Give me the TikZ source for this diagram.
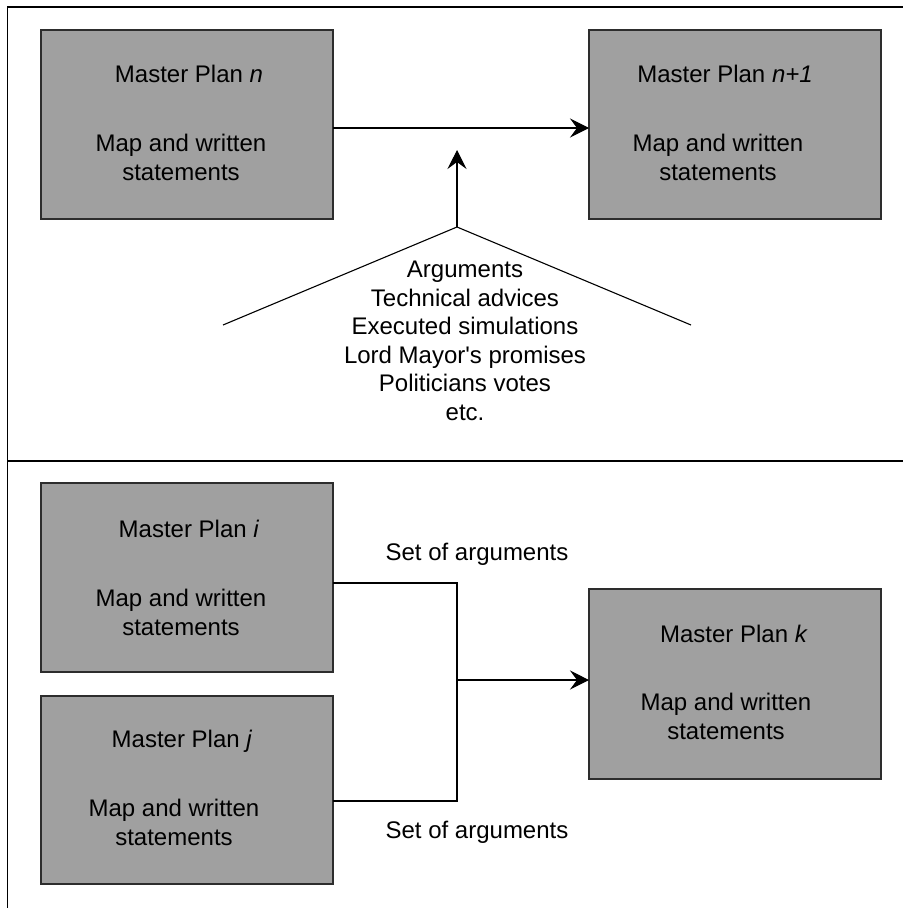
\documentclass[tikz,border=0pt]{standalone}
\usepackage{fontspec}
\setmainfont{Liberation Sans}
\usetikzlibrary{arrows.meta}
\definecolor{boxgray}{RGB}{160,160,160}
\definecolor{boxedge}{RGB}{45,45,45}
\begin{document}
\begin{tikzpicture}[x=1pt,y=-1pt,
  box/.style={rectangle, fill=boxgray, draw=boxedge, line width=1.3pt,
    minimum width=292pt, minimum height=189pt, inner sep=0pt, outer sep=0pt, anchor=north west},
  lbl/.style={font=\fontsize{24}{28.5}\selectfont, inner sep=0pt, outer sep=0pt, align=center},
  conn/.style={line width=1.1pt},
  arr/.style={conn, -{Stealth[length=19pt,width=19pt,inset=7pt]}},
  framestyle/.style={line width=1.6pt}]
\useasboundingbox (0,0) rectangle (903,908);
% frame
\coordinate (fbl) at (7.3,908);
\coordinate (ftl) at (7.3,7);
\coordinate (ftr) at (903,7);
\coordinate (fdl) at (7.3,460.7);
\coordinate (fdr) at (903,460.7);
\draw[framestyle] (fbl) -- (ftl) -- (ftr);
\draw[framestyle] (fdl) -- (fdr);
% boxes
\node[box] (n)  at (41,30)  {};
\node[box] (n1) at (589,30) {};
\node[box] (i)  at (41,483) {};
\node[box, minimum height=188pt] (j)  at (41,696) {};
\node[box, minimum height=190pt] (k)  at (589,589) {};
% box texts
\node[lbl, anchor=base]  (nt)  at (189,82.6)  {Master Plan \textit{n}};
\node[lbl, anchor=north] (nb)  at (181,134.2) {Map and written\\statements};
\node[lbl, anchor=base]  (n1t) at (725,82.6)  {Master Plan \textit{n+1}};
\node[lbl, anchor=north] (n1b) at (718,134.2) {Map and written\\statements};
\node[lbl, anchor=base]  (it)  at (189,537.6) {Master Plan \textit{i}};
\node[lbl, anchor=north] (ib)  at (181,589.2) {Map and written\\statements};
\node[lbl, anchor=base]  (jt)  at (182,747.6) {Master Plan \textit{j}};
\node[lbl, anchor=north] (jb)  at (174,799.2) {Map and written\\statements};
\node[lbl, anchor=base]  (kt)  at (734,642.6) {Master Plan \textit{k}};
\node[lbl, anchor=north] (kb)  at (726,693.2) {Map and written\\statements};
% arguments text
\node[lbl, anchor=north] (args) at (465,261.2) {Arguments\\Technical advices\\Executed simulations\\Lord Mayor\textquotesingle s promises\\Politicians votes\\etc.};
\node[lbl, anchor=base] (set1) at (477,560.6) {Set of arguments};
\node[lbl, anchor=base] (set2) at (477,838.6) {Set of arguments};
% top connectors
\coordinate (apex) at (457,227);
\coordinate (tl) at (223,325);
\coordinate (tr) at (691,325);
\coordinate (tip) at (457,150);
\draw[arr] (n.east |- 0,128) -- (n1.west |- 0,128);
\draw[conn] (tl) -- (apex) -- (tr);
\draw[arr] (apex) -- (tip);
% bottom connectors
\coordinate (ja) at (457,583);
\coordinate (jbb) at (457,801);
\coordinate (jm) at (457,680);
\draw[conn] (i.east |- ja) -- (ja) -- (jbb) -- (j.east |- jbb);
\draw[arr] (jm) -- (k.west |- jm);
\end{tikzpicture}
\end{document}
